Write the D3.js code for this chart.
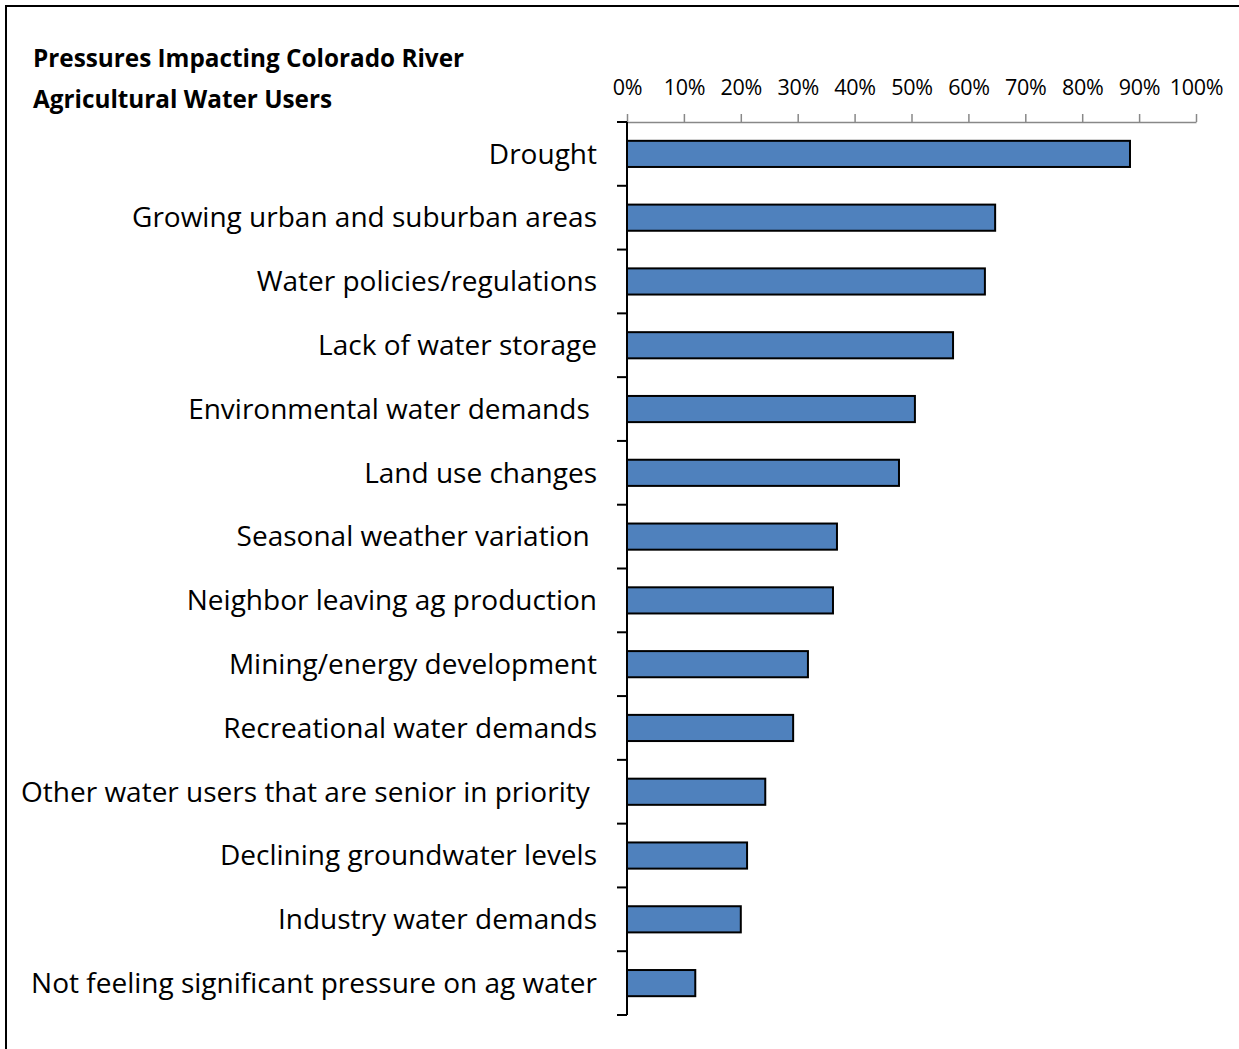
<!DOCTYPE html>
<html>
<head>
<meta charset="utf-8">
<script src="https://cdn.jsdelivr.net/npm/d3@7"></script>
<style>
  body { margin: 0; background: #fff; }
  text { white-space: pre; }
</style>
</head>
<body>
<svg id="chart" width="1239" height="1049"></svg>
<script>
const categories = [
  "Drought",
  "Growing urban and suburban areas",
  "Water policies/regulations",
  "Lack of water storage",
  "Environmental water demands ",
  "Land use changes",
  "Seasonal weather variation ",
  "Neighbor leaving ag production",
  "Mining/energy development",
  "Recreational water demands",
  "Other water users that are senior in priority ",
  "Declining groundwater levels",
  "Industry water demands",
  "Not feeling significant pressure on ag water"
];
const values = [0.884, 0.647, 0.629, 0.573, 0.506, 0.478, 0.369, 0.362, 0.318, 0.292, 0.243, 0.211, 0.200, 0.120];
const tickValues = [0, 0.1, 0.2, 0.3, 0.4, 0.5, 0.6, 0.7, 0.8, 0.9, 1.0];
const titleLines = ["Pressures Impacting Colorado River", "Agricultural Water Users"];

const svg = d3.select("#chart");
const font = "'Open Sans', sans-serif";

// frame
svg.append("rect")
  .attr("x", 6).attr("y", 6)
  .attr("width", 1245).attr("height", 1055)
  .attr("fill", "none").attr("stroke", "#000").attr("stroke-width", 2);

const plotLeft = 627, plotRight = 1196, plotTop = 122, plotBottom = 1015;

const x = d3.scaleLinear().domain([0, 1]).range([plotLeft, plotRight]);
const y = d3.scaleBand().domain(categories).range([plotTop, plotBottom]).paddingInner(0.59).paddingOuter(0.295);

// top axis
const xAxis = svg.append("g")
  .attr("transform", `translate(0,${plotTop})`)
  .call(d3.axisTop(x).tickValues(tickValues).tickFormat(d3.format(".0%")).tickSize(8).tickSizeOuter(0));
xAxis.select(".domain").attr("stroke", "#888").attr("stroke-width", 1.5);
xAxis.selectAll(".tick line").attr("stroke", "#888").attr("stroke-width", 1.5);
xAxis.selectAll(".tick text")
  .attr("y", -27)
  .attr("fill", "#000")
  .style("font-family", font)
  .style("font-size", "21.5px")
  .style("letter-spacing", "-0.3px");

// bars
svg.append("g").selectAll("rect")
  .data(values)
  .join("rect")
  .attr("x", x(0))
  .attr("y", (d, i) => y(categories[i]))
  .attr("width", d => x(d) - x(0))
  .attr("height", y.bandwidth())
  .attr("fill", "#4F81BD")
  .attr("stroke", "#000")
  .attr("stroke-width", 2);

// category axis
const step = y.step();
const boundaries = d3.range(categories.length + 1).map(i => plotTop + i * step);
const yg = svg.append("g");
yg.append("line")
  .attr("x1", plotLeft).attr("x2", plotLeft)
  .attr("y1", plotTop).attr("y2", plotBottom)
  .attr("stroke", "#000").attr("stroke-width", 2);
yg.selectAll("line.tk")
  .data(boundaries)
  .join("line")
  .attr("class", "tk")
  .attr("x1", plotLeft - 10).attr("x2", plotLeft)
  .attr("y1", d => d).attr("y2", d => d)
  .attr("stroke", "#000").attr("stroke-width", 2);

yg.selectAll("text")
  .data(categories)
  .join("text")
  .attr("x", 597)
  .attr("y", d => y(d) + y.bandwidth() / 2)
  .attr("dy", "0.35em")
  .attr("text-anchor", "end")
  .style("font-family", font)
  .style("font-size", "28px")
  .text(d => d);

// title
svg.append("g").selectAll("text")
  .data(titleLines)
  .join("text")
  .attr("x", 33)
  .attr("y", (d, i) => 67 + i * 41)
  .style("font-family", font)
  .style("font-weight", "bold")
  .style("font-size", "24.3px")
  .text(d => d);
</script>
</body>
</html>
